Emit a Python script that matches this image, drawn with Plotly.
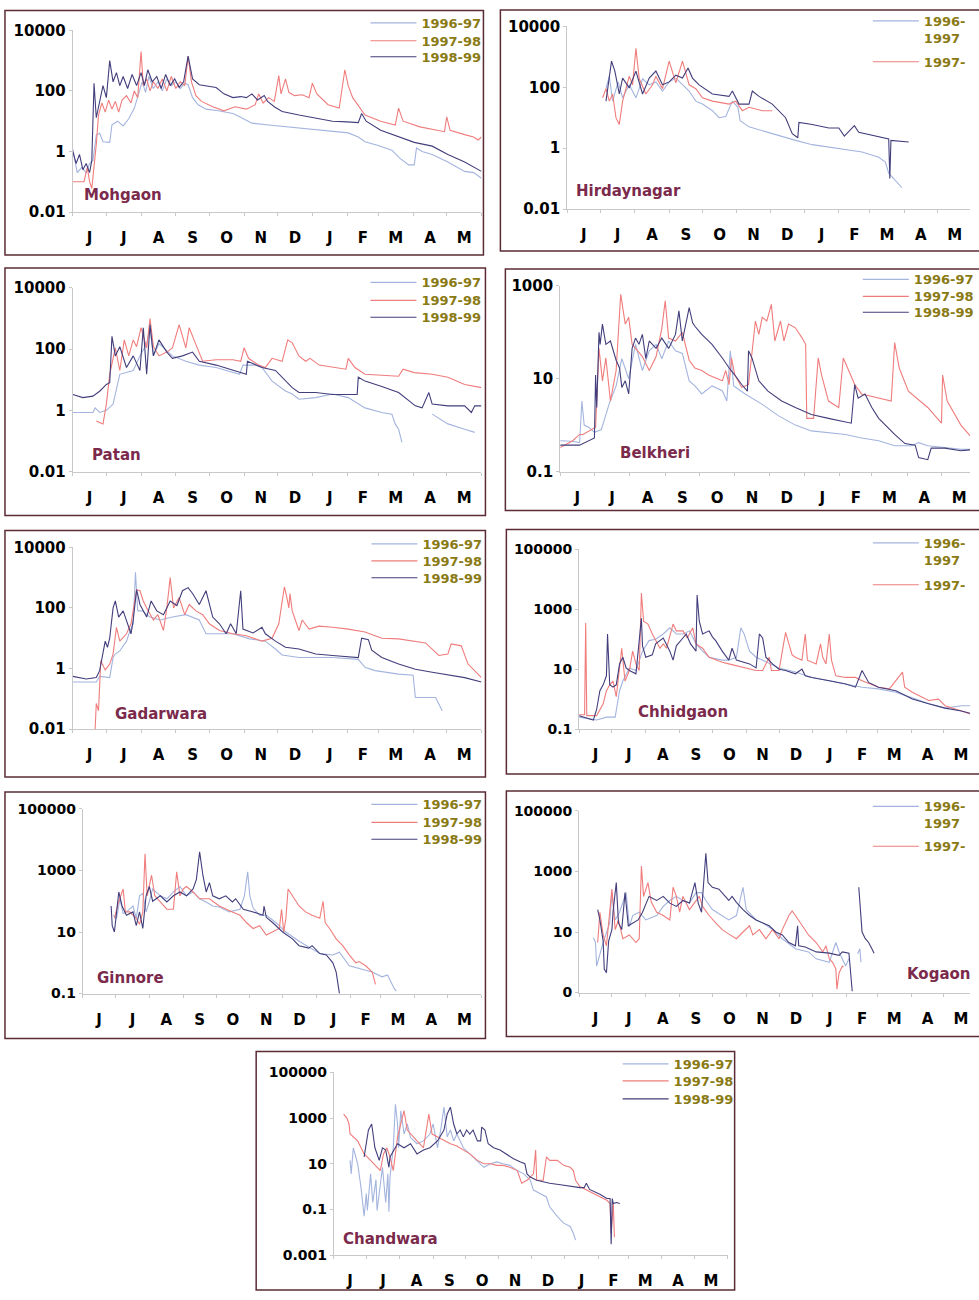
import plotly.graph_objects as go

W, H = 979, 1300
# measured mapping of this page into the photographed picture: x' = SX*x, y' = SY*y + OY
SX, SY, OY = 0.994, 0.988, 7.6

MONTH_LABELS = ["J", "J", "A", "S", "O", "N", "D", "J", "F", "M", "A", "M"]
MONTH_START = [0, 30, 61, 92, 122, 153, 183, 214, 245, 273, 304, 334, 365]
SEASONS = ["1996-97", "1997-98", "1998-99"]
SEASONS_SHORT = ["1996-<br>1997", "1997-"]
COLORS = ["#a3b4de", "#f07c7c", "#423e7c"]

# ---------------- data: day of water year (0 = 1 June) and discharge ----------------
MOH_96_D = [0,2,4,8,12,15,18,21,24,27,33,35,40,45,50,55,58,62,65,68,72,76,80,84,88,92,96,100,103,107,112,119,130,143,149,160,175,187,200,217,232,246,255,261,272,285,292,300,305,307,312,321,335,350,358,365]
MOH_96_Q = [1.2,0.5,0.2,0.3,0.2,0.4,0.5,3.5,4,2.1,2.0,7.6,10,7,12,27,60,200,90,300,120,200,100,250,150,200,120,180,160,60,35,25,22,18,14,8.6,7.5,6.8,6,5.3,4.6,4.1,3,2.1,1.6,1.1,0.6,0.36,0.36,1.3,1.0,0.8,0.45,0.22,0.2,0.13]
MOH_97_D = [0,5,10,13,15,17,19,21,23,26,29,32,35,38,41,44,48,52,55,58,61,63,66,69,72,76,80,84,88,92,96,100,103,106,110,115,125,135,145,155,163,166,170,175,180,184,186,190,193,198,205,211,214,218,228,238,243,246,250,261,275,288,291,295,310,321,332,334,337,350,358,362,365]
MOH_97_Q = [0.1,0.1,0.1,0.3,0.1,0.06,0.3,1.7,16,40,20,50,25,45,20,50,70,40,100,60,2000,150,250,100,200,120,250,100,300,120,200,150,1400,200,70,45,30,22,30,25,35,80,40,60,45,320,80,250,90,70,75,60,180,80,35,27,500,150,60,16,10,7.5,27,10,6.5,5.3,4.5,14,5,3.6,3,2.4,3]
MOH_98_D = [0,3,6,9,12,15,17,19,21,24,27,30,33,36,39,42,45,49,53,57,61,64,67,71,75,79,83,87,91,95,99,103,107,113,119,128,135,143,150,155,160,165,171,174,180,187,202,217,232,245,255,258,262,275,291,305,321,335,350,365]
MOH_98_Q = [1.0,0.4,0.8,0.25,0.4,0.2,0.5,180,13,50,150,60,1000,200,400,150,300,120,350,150,400,150,500,200,300,120,350,150,250,130,200,1400,250,160,150,130,80,60,65,60,80,50,70,45,30,21,16,13,10,9.5,9,18,10,5,3.1,2,1.5,0.8,0.45,0.22]

HIR_96_D = [35,38,41,46,50,56,62,68,74,80,86,92,98,104,110,116,122,131,137,143,149,154,156,164,176,190,206,221,236,251,266,281,287,290,296,302]
HIR_96_Q = [90,230,35,150,45,120,45,190,120,150,75,150,200,120,75,35,28,17,10,11,35,22,8,5,3.7,2.6,1.8,1.3,1.1,0.9,0.75,0.5,0.35,0.15,0.09,0.05]
HIR_97_D = [32,35,38,41,44,47,50,56,59,62,65,71,77,80,86,92,98,104,110,116,122,131,146,152,158,164,176,185]
HIR_97_Q = [45,90,35,60,10,6,35,230,120,1900,190,60,120,230,90,720,140,720,120,90,45,35,28,35,17,22,17,17]
HIR_98_D = [35,40,43,47,50,56,62,68,74,80,86,92,98,104,109,113,119,131,146,149,155,164,167,173,185,197,203,208,209,221,236,245,250,259,263,281,290,291,292,308]
HIR_98_Q = [35,720,340,60,200,95,340,60,200,340,120,150,250,200,430,200,120,60,50,75,28,28,75,50,28,10,3,2.2,7,6,4.6,4.6,2.5,5.5,3.3,2.3,2.0,0.1,1.8,1.6]

PAT_96_D = [0,9,18,20,24,30,36,42,54,60,66,69,72,77,89,101,113,128,143,149,152,163,169,178,190,196,202,217,232,246,261,276,285,288,291,294,295,321,335,350,359]
PAT_96_Q = [0.85,0.85,0.85,1.2,0.85,1.0,1.6,15,20,60,150,500,60,150,60,40,30,25,17,15,30,30,25,9,4.3,3.4,2.3,2.6,3.4,2.6,1.2,0.85,0.75,0.36,0.24,0.09,None,0.75,0.36,0.24,0.19]
PAT_97_D = [21,27,30,33,38,42,46,50,54,57,61,66,69,72,77,84,89,95,101,104,110,116,128,143,150,153,157,166,172,178,187,192,196,202,208,212,220,232,244,246,252,261,291,295,305,321,335,350,365]
PAT_97_Q = [0.45,0.36,1.6,15,110,20,200,60,200,120,500,110,1000,120,60,80,110,630,110,500,140,40,45,45,40,110,50,30,25,50,40,200,160,60,40,50,30,25,22,50,25,15,13,22,17,15,12,7,5.5]
PAT_98_D = [0,9,18,24,30,33,35,38,42,48,54,60,63,66,69,72,77,84,89,98,107,113,128,143,155,156,169,181,196,202,217,232,246,254,255,261,276,291,306,312,318,321,335,350,356,359,365]
PAT_98_Q = [3.3,2.6,2.9,4.2,7,8,260,60,120,25,60,20,500,15,630,60,200,80,50,60,80,40,30,20,15,40,25,20,5.5,3.8,3.8,3.3,3.3,3.3,12,9,6,3.8,1.4,1.2,3.8,1.6,1.4,1.4,0.85,1.4,1.4]

BEL_96_D = [0,10,17,19,21,25,30,36,43,49,54,60,66,72,78,84,89,95,101,107,113,118,124,133,142,146,149,152,162,177,191,206,220,235,250,264,279,293,308,314,322,337,351,363]
BEL_96_Q = [0.46,0.45,0.42,3.3,1.0,0.9,0.7,0.8,2.9,7,27,10,55,15,40,55,27,65,40,35,9,7,4.7,7,5.5,3.3,40,7,4.7,2.8,1.6,1.0,0.75,0.7,0.63,0.53,0.46,0.36,0.36,0.42,0.36,0.33,0.3,0.3]
BEL_97_D = [0,11,17,20,31,34,37,40,44,49,53,57,60,63,66,72,78,84,89,92,95,101,107,113,118,124,130,136,142,145,148,150,153,159,165,171,174,177,181,185,188,193,196,200,206,212,215,216,222,226,229,235,244,248,252,258,264,290,293,297,305,322,334,335,339,351,363]
BEL_97_Q = [0.33,0.46,0.63,0.63,0.9,45,9,28,3.3,15,660,150,210,55,45,30,15,30,120,475,75,65,100,25,17,15,12,10.5,9,15,7.5,28,12,6.5,7.5,175,90,210,175,400,65,175,65,150,125,75,55,1.4,1.4,28,12,3.3,2.4,28,17,7.5,4.7,3.3,60,17,5.4,2.4,1.1,12,3.3,1.0,0.46]
BEL_98_D = [0,17,30,31,32,34,35,37,40,44,49,52,54,57,60,63,66,69,72,75,78,84,89,95,101,104,107,110,113,116,118,124,133,142,148,153,159,164,165,168,174,182,194,206,220,235,250,255,258,261,267,273,279,293,302,311,314,322,325,337,351,363]
BEL_98_Q = [0.37,0.37,0.53,12,2.4,100,55,150,55,65,25,17,6.5,9,4.7,45,75,55,90,27,65,45,75,45,90,290,65,150,340,160,135,90,55,28,17,12,7.5,5.4,40,28,9,5.4,3.3,2.4,1.7,1.4,1.2,1.1,7.5,3.8,4.7,2.4,1.4,0.63,0.4,0.37,0.2,0.18,0.32,0.32,0.28,0.3]

GAD_96_D = [0,10,21,24,33,36,38,42,48,51,54,56,58,62,69,78,89,101,113,119,130,143,158,172,181,187,202,232,255,261,270,291,304,306,324,327,330]
GAD_96_Q = [0.36,0.36,0.36,0.55,0.5,2.3,3,3.8,8,17,30,1500,80,80,50,40,50,60,40,14,14,14,9.5,8,4.4,2.8,2.3,2.3,2,1.1,0.85,0.65,0.6,0.11,0.11,0.07,0.04]
GAD_97_D = [20,21,23,24,25,29,33,36,39,42,48,52,57,60,63,66,72,76,81,84,87,90,95,100,104,110,116,122,131,143,155,169,178,184,189,191,193,194,196,202,205,211,220,232,246,261,276,291,315,327,335,338,347,353,365]
GAD_97_Q = [0.01,0.07,0.04,0.36,1.8,0.9,1.4,3,23,8,14,30,400,370,170,100,40,60,18,100,1000,100,220,60,130,80,60,30,18,14,12,8,10,30,500,240,100,300,80,18,40,20,25,23,20,16,10,9.5,7,2.7,3,6.5,5.6,1.4,0.5]
GAD_98_D = [0,12,21,24,29,31,33,36,38,41,45,48,52,54,57,60,66,70,75,81,87,93,98,103,107,113,119,125,131,137,141,146,150,152,161,169,172,181,190,202,217,232,255,258,264,267,276,291,306,321,335,350,365]
GAD_98_Q = [0.55,0.45,0.5,0.85,8,5,10,100,170,50,80,40,14,40,400,130,50,170,80,60,170,120,370,470,300,130,370,50,30,14,30,14,370,20,15,23,14,8,5,4.4,3,2.7,2.3,10,9,4,2.3,1.4,0.95,0.75,0.6,0.5,0.36]

CHH_96_D = [0,16,25,33,37,40,46,52,58,64,70,77,83,89,95,101,107,113,119,125,131,137,144,148,151,156,162,168,183,198,213,229,244,259,274,290,305,320,335,350,362]
CHH_96_Q = [0.25,0.2,0.25,0.25,1.9,4,11,9,40,90,100,150,240,150,150,190,70,40,25,22,20,20,25,240,150,40,25,20,11,8,5.3,4.1,3.2,2.5,2.2,1.7,1.1,0.7,0.5,0.6,0.6]
CHH_97_D = [0,5,6,7,16,22,25,28,31,34,39,42,46,49,52,55,57,59,63,67,74,77,80,86,89,95,99,104,107,113,119,125,131,137,144,150,156,162,168,174,176,183,186,189,192,195,198,204,207,209,217,221,223,226,229,231,235,244,253,259,274,284,296,298,305,320,329,335,350,363]
CHH_97_Q = [0.3,0.3,350,0.28,0.28,0.7,1.9,3,4,1.2,50,4,9,40,15,9,3500,400,320,150,50,70,50,320,190,190,110,240,70,50,25,20,17,15,13,11,10,9,9,25,9,9,40,170,70,30,25,20,150,20,15,70,25,15,150,20,6,5.3,5.3,4.1,2.5,2.2,8,2.5,1.7,0.9,1.0,0.6,0.4,0.28]
CHH_98_D = [0,13,16,19,22,25,26,28,31,34,37,40,43,46,52,57,58,61,67,70,77,83,86,89,95,98,102,107,108,110,113,119,122,125,131,137,140,144,156,162,165,168,171,177,183,189,198,204,207,213,229,244,253,259,265,274,290,305,320,335,350,363]
CHH_98_Q = [0.28,0.2,0.45,1.9,3,6,150,3,2.5,3,15,25,11,9,7,500,60,25,30,70,110,40,20,60,110,150,70,40,3000,400,150,190,120,90,40,20,50,20,15,11,150,110,25,15,10,9,7,10,6,5.3,4.1,3.2,2.5,9,3.6,2.5,1.9,1.0,0.7,0.5,0.4,0.3]

GIN_96_D = [28,31,34,37,40,46,49,52,55,58,61,64,71,77,83,89,95,101,107,113,119,125,134,144,148,151,153,156,162,168,177,186,198,207,217,229,235,244,253,265,274,279,285,287]
GIN_96_Q = [35,28,120,40,45,70,28,150,180,45,100,250,150,120,200,300,150,200,120,95,70,65,45,55,150,900,150,60,35,35,20,10,5,3.2,2,1.8,2.2,0.8,0.65,0.5,0.35,0.4,0.15,0.12]
GIN_97_D = [29,33,37,39,43,49,52,55,57,59,63,66,71,77,83,86,89,92,95,101,107,116,125,131,137,144,150,156,162,168,174,180,182,184,186,188,192,198,204,210,217,220,222,226,232,238,244,250,253,259,265,268]
GIN_97_Q = [28,100,250,45,45,28,18,45,3500,150,700,150,95,55,55,900,150,250,300,200,120,120,70,55,45,35,20,13,16,8,10,13,55,10,28,250,150,70,45,35,28,100,20,13,6,3.6,1.8,1.0,1.1,0.8,0.5,0.2]
GIN_98_D = [26,27,29,33,36,40,46,49,52,55,58,61,64,71,77,83,89,95,101,104,107,110,113,116,119,125,131,137,140,147,156,165,166,168,174,183,192,198,207,210,217,223,229,232,235]
GIN_98_Q = [70,16,10,200,70,35,45,16,45,13,150,300,100,150,95,150,200,150,250,500,4000,700,200,400,150,120,150,95,120,55,45,35,70,30,20,10,6,3.6,3,3.6,2,1.8,1.0,0.5,0.1]

KOG_96_D = [13,15,16,22,28,30,33,37,43,46,49,55,61,71,77,83,89,95,101,107,112,116,122,131,137,144,150,153,162,168,177,186,198,210,217,229,235,238,244,247,250,255,257,258]
KOG_96_Q = [6.5,4.5,0.75,4.5,20,200,25,45,200,15,35,45,25,35,70,110,150,110,90,200,200,110,55,35,25,35,300,55,25,20,12,6,2.8,2.2,1.3,1.0,4.5,2.2,0.75,1.3,None,1.9,2.8,1.0]
KOG_97_D = [17,19,22,25,30,33,36,40,46,52,55,57,59,63,66,71,77,83,86,89,92,95,101,107,110,113,119,125,131,137,144,150,156,159,165,171,177,183,186,192,195,198,204,210,217,223,226,229,232,235,236,238,241,242]
KOG_97_Q = [4.5,45,8,3.5,260,12,25,6,8,4.5,6,1500,150,430,100,45,35,25,300,150,45,150,55,110,150,70,35,20,12,8.5,6,10,16,8,12,6,12,6,12,35,50,35,16,8,4.5,2.2,3.5,1.3,1.0,0.6,0.13,0.45,0.75,0.7]
KOG_98_D = [17,19,22,23,25,27,30,31,34,36,39,42,45,49,54,58,64,71,77,83,89,95,101,106,109,112,115,116,118,122,128,134,137,140,144,150,156,162,168,174,180,186,192,198,200,201,207,217,229,238,241,247,248,250,252,256,259,262,265,268,270]
KOG_98_Q = [55,25,5,0.6,0.45,5,12,45,430,20,12,200,16,20,25,45,150,110,150,90,70,110,90,430,90,45,1500,4000,430,300,260,150,110,150,95,55,35,25,20,16,10,8,4.5,3.5,16,3.5,3.2,2.2,2.0,1.7,2.2,2.0,0.75,0.11,None,300,10,6,4.5,2.8,2.0]

CHA_96_D = [15,16,18,22,25,26,28,30,31,34,36,39,40,45,48,50,51,52,55,57,59,60,62,65,68,71,77,83,89,92,96,99,102,105,108,111,114,120,126,133,139,145,151,157,163,170,176,182,185,191,197,200,207,213,219,222,224]
CHA_96_Q = [14,3.6,50,10,1,0.35,0.05,0.5,0.09,3.6,0.2,2,0.09,7,0.2,3.6,0.08,2.6,50,4000,550,50,2100,200,550,140,75,100,200,550,50,300,3000,150,300,100,200,50,27,14,7,10,12,10,8.5,5,3.6,1.9,0.7,0.5,0.35,0.13,0.05,0.025,0.018,0.009,0.0045]
CHA_97_D = [9,12,14,15,22,28,34,40,43,46,49,52,55,59,62,65,68,71,77,83,88,91,96,102,108,114,120,126,133,139,145,151,157,163,170,173,174,179,182,185,187,188,194,197,200,207,213,219,222,224,228,234,240,247,253,256,257,259,260]
CHA_97_Q = [1500,1000,550,200,100,27,14,7,5,27,50,20,5,150,550,2100,300,200,100,50,1500,200,150,100,75,60,40,27,14,10,10,8.5,8.5,7,5,1.9,1.4,1.9,2.6,3.6,40,1.9,1.9,20,14,14,8.5,7,5,1.9,1,0.7,0.5,0.35,0.25,0.18,0.009,0.18,0.006]
CHA_98_D = [28,32,35,38,42,45,48,51,52,59,65,71,77,83,89,96,102,105,108,111,114,117,120,123,126,129,133,136,137,140,143,148,154,160,166,173,177,179,182,188,194,200,210,219,228,232,234,237,247,253,256,257,258,259,262,265]
CHA_98_Q = [20,300,550,50,14,50,40,7,20,75,50,75,27,40,50,100,300,1500,3000,550,200,300,150,300,200,300,100,100,400,300,75,50,40,27,17,12,10,3.6,2.6,1.9,1.6,1.4,1.2,1.0,0.9,0.9,1.4,0.75,0.45,0.3,0.3,0.003,0.3,0.18,0.2,0.18]

# ---------------- panel layout (pixel positions as seen in the reference picture) ----------------
PANELS = [
    dict(name="Mohgaon", data=[(MOH_96_D, MOH_96_Q), (MOH_97_D, MOH_97_Q), (MOH_98_D, MOH_98_Q)],
         px=(73, 483), py=(29, 211), yr=(-2, 4), tv=[0.01, 1, 100, 10000], tt=["0.01", "1", "100", "10000"],
         box=(5, 9, 485, 254), lab=(82, 194), leg=(482, [23, 41, 57]), short=False, fs=15),
    dict(name="Hirdaynagar", data=[(HIR_96_D, HIR_96_Q), (HIR_97_D, HIR_97_Q), (HIR_98_D, HIR_98_Q)],
         px=(569, 975), py=(25, 208), yr=(-2, 4), tv=[0.01, 1, 100, 10000], tt=["0.01", "1", "100", "10000"],
         box=(502, 5, 995, 250), lab=(576, 190), leg=(968, [21, 62]), short=True, fs=15),
    dict(name="Patan", data=[(PAT_96_D, PAT_96_Q), (PAT_97_D, PAT_97_Q), (PAT_98_D, PAT_98_Q)],
         px=(73, 483), py=(287, 471), yr=(-2, 4), tv=[0.01, 1, 100, 10000], tt=["0.01", "1", "100", "10000"],
         box=(5, 267, 487, 515), lab=(90, 454), leg=(482, [283, 301, 318]), short=False, fs=15),
    dict(name="Belkheri", data=[(BEL_96_D, BEL_96_Q), (BEL_97_D, BEL_97_Q), (BEL_98_D, BEL_98_Q)],
         px=(562, 980), py=(285, 471), yr=(-1, 3), tv=[0.1, 10, 1000], tt=["0.1", "10", "1000"],
         box=(507, 268, 995, 510), lab=(620, 452), leg=(976, [280, 297, 313]), short=False, fs=15),
    dict(name="Gadarwara", data=[(GAD_96_D, GAD_96_Q), (GAD_97_D, GAD_97_Q), (GAD_98_D, GAD_98_Q)],
         px=(73, 483), py=(547, 729), yr=(-2, 4), tv=[0.01, 1, 100, 10000], tt=["0.01", "1", "100", "10000"],
         box=(5, 530, 487, 777), lab=(113, 714), leg=(483, [545, 562, 579]), short=False, fs=15),
    dict(name="Chhidgaon", data=[(CHH_96_D, CHH_96_Q), (CHH_97_D, CHH_97_Q), (CHH_98_D, CHH_98_Q)],
         px=(581, 981), py=(549, 729), yr=(-1, 5), tv=[0.1, 10, 1000, 100000], tt=["0.1", "10", "1000", "100000"],
         box=(508, 529, 995, 774), lab=(638, 712), leg=(968, [544, 586]), short=True, fs=14),
    dict(name="Ginnore", data=[(GIN_96_D, GIN_96_Q), (GIN_97_D, GIN_97_Q), (GIN_98_D, GIN_98_Q)],
         px=(83, 483), py=(809, 994), yr=(-1, 5), tv=[0.1, 10, 1000, 100000], tt=["0.1", "10", "1000", "100000"],
         box=(5, 792, 487, 1039), lab=(95, 978), leg=(483, [806, 824, 841]), short=False, fs=14),
    dict(name="Kogaon", data=[(KOG_96_D, KOG_96_Q), (KOG_97_D, KOG_97_Q), (KOG_98_D, KOG_98_Q)],
         px=(581, 981), py=(811, 993), yr=(-1, 5), tv=[0.1, 10, 1000, 100000], tt=["0", "10", "1000", "100000"],
         box=(508, 791, 995, 1037), lab=(908, 974), leg=(968, [808, 848]), short=True, fs=14),
    dict(name="Chandwara", data=[(CHA_96_D, CHA_96_Q), (CHA_97_D, CHA_97_Q), (CHA_98_D, CHA_98_Q)],
         px=(335, 730), py=(1073, 1256), yr=(-3, 5), tv=[0.001, 0.1, 10, 1000, 100000],
         tt=["0.001", "0.1", "10", "1000", "100000"],
         box=(257, 1052, 737, 1298), lab=(342, 1240), leg=(735, [1066, 1083, 1101]), short=False, fs=14),
]

FONT = "DejaVu Sans"
AXIS_GRAY = "#c8c8c8"
LEGEND_TEXT = "#8a7a14"
NAME_COLOR = "#7b2a4c"
BORDER = "#5b2b35"


def to_fig_x(x):
    return x / SX


def to_fig_y(y):
    return (y - OY) / SY


def fx(x):
    return to_fig_x(x) / W


def fy(y):
    return 1 - to_fig_y(y) / H


month_centers = [(MONTH_START[i] + MONTH_START[i + 1]) / 2 for i in range(12)]

fig = go.Figure()
layout = dict(width=W, height=H, margin=dict(l=0, r=0, t=0, b=0),
              paper_bgcolor="white", plot_bgcolor="white", showlegend=True)
shapes, annotations = [], []
legend_no = 0

for i, p in enumerate(PANELS):
    sfx = "" if i == 0 else str(i + 1)
    xa, ya = "x" + sfx, "y" + sfx
    names = SEASONS_SHORT if p["short"] else SEASONS
    lx, rows = p["leg"]
    for k, (d, q) in enumerate(p["data"]):
        assert len(d) == len(q), (p["name"], k, len(d), len(q))
        show = k < len(rows)
        lg = None
        if show:
            legend_no += 1
            lg = "legend" if legend_no == 1 else "legend%d" % legend_no
            layout[lg] = dict(x=fx(lx + 6), xanchor="right",
                              y=1 - (to_fig_y(rows[k]) - 16.7) / H, yanchor="top",
                              bgcolor="rgba(0,0,0,0)", borderwidth=0, valign="top",
                              itemwidth=46,
                              font=dict(family=FONT, size=13, color=LEGEND_TEXT, weight="bold"))
        fig.add_trace(go.Scatter(x=d, y=q, mode="lines", name=names[k] if show else SEASONS[k],
                                 line=dict(color=COLORS[k], width=1.1),
                                 xaxis=xa, yaxis=ya, showlegend=show,
                                 connectgaps=False, hoverinfo="skip",
                                 **({"legend": lg} if lg else {})))
    X0, X1 = to_fig_x(p["px"][0]), to_fig_x(p["px"][1])
    X1c = min(X1, W)
    xmax = 365 * (X1c - X0) / (X1 - X0)
    y0, y1 = p["py"]
    layout["xaxis" + sfx] = dict(
        domain=[X0 / W, X1c / W], range=[0, xmax], anchor=ya,
        tickmode="array", tickvals=month_centers, ticktext=MONTH_LABELS,
        ticks="", ticklabelstandoff=12,
        tickfont=dict(family=FONT, size=15, color="black", weight="bold"),
        showline=True, linecolor=AXIS_GRAY, linewidth=1, showgrid=False, zeroline=False,
        minor=dict(tickmode="array", tickvals=MONTH_START, ticks="outside", ticklen=3,
                   tickcolor=AXIS_GRAY, showgrid=False),
    )
    layout["yaxis" + sfx] = dict(
        domain=[fy(y1), fy(y0)], type="log", range=list(p["yr"]), anchor=xa,
        tickmode="array", tickvals=p["tv"], ticktext=p["tt"],
        ticks="outside", ticklen=3, tickcolor=AXIS_GRAY,
        tickfont=dict(family=FONT, size=p["fs"], color="black", weight="bold"),
        showline=True, linecolor=AXIS_GRAY, linewidth=1, showgrid=False, zeroline=False,
    )
    bx0, by0, bx1, by1 = p["box"]
    X_0 = max(to_fig_x(bx0), 1.0)
    X_1 = to_fig_x(bx1)
    Y_0 = max(to_fig_y(by0), 1.0)
    Y_1 = min(to_fig_y(by1), H - 1.0)
    shapes.append(dict(type="rect", xref="paper", yref="paper",
                       x0=X_0 / W, x1=X_1 / W, y0=1 - Y_1 / H, y1=1 - Y_0 / H,
                       line=dict(color=BORDER, width=1.5), fillcolor="rgba(0,0,0,0)", layer="above"))
    ax, ay = p["lab"]
    annotations.append(dict(text=p["name"], xref="paper", yref="paper", x=fx(ax), y=fy(ay),
                            xanchor="left", yanchor="middle", showarrow=False,
                            font=dict(family=FONT, size=15, color=NAME_COLOR, weight="bold")))

layout["shapes"] = shapes
layout["annotations"] = annotations
fig.update_layout(**layout)
fig.write_html("out.html", config={"displayModeBar": False})
